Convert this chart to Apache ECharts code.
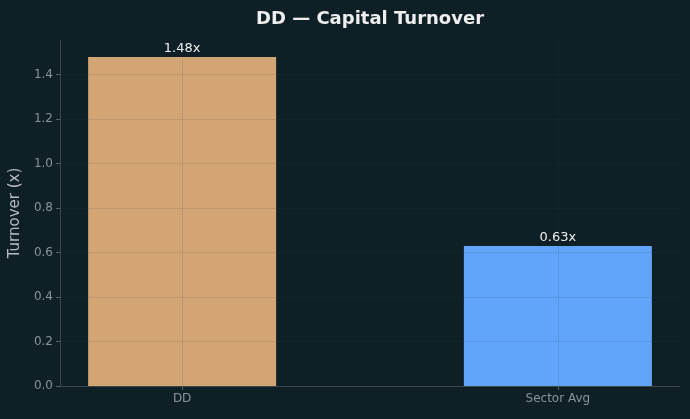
<!DOCTYPE html>
<html>
<head>
    <meta charset="utf-8">
    <title>DD Capital Turnover</title>
    <script src="https://cdn.jsdelivr.net/npm/echarts@6/dist/echarts.min.js"></script>
    <style>
        html, body { margin: 0; padding: 0; background: #0f1f26; }
        #main { width: 690px; height: 419px; }
    </style>
</head>
<body>
    <div id="main"></div>
    <script type="text/javascript">
        // data
        var categories = ['DD', 'Sector Avg'];
        var turnover = [1.48, 0.63];
        var barColors = ['#d4a574', '#60a5fa'];
        var yTicks = [0, 0.2, 0.4, 0.6, 0.8, 1.0, 1.2, 1.4];
        var xTicks = [0, 1];

        var gridColor = 'rgba(45,60,66,0.13)';

        var barData = [];
        for (var i = 0; i < categories.length; i++) {
            barData.push({ value: [i, turnover[i]], itemStyle: { color: barColors[i] } });
        }

        var gridLines = [];
        for (var j = 1; j < yTicks.length; j++) {
            gridLines.push({ yAxis: yTicks[j] });
        }
        for (var k = 0; k < xTicks.length; k++) {
            gridLines.push({ xAxis: xTicks[k] });
        }

        var myChart = echarts.init(document.getElementById('main'));

        var option = {
            backgroundColor: '#0f1f26',
            animation: false,
            title: {
                text: 'DD — Capital Turnover',
                left: 365,
                textAlign: 'center',
                top: 5,
                textStyle: { color: '#eeeeee', fontSize: 18, fontWeight: 'bold', fontFamily: 'DejaVu Sans' }
            },
            grid: { left: 60, right: 10, top: 40, bottom: 33, outerBoundsMode: 'none', containLabel: false },
            xAxis: {
                type: 'value',
                min: -0.325,
                max: 1.325,
                axisLine: { onZero: false, lineStyle: { color: '#3d474c' } },
                axisTick: { show: true, customValues: xTicks, length: 4, lineStyle: { color: '#5a6468' } },
                axisLabel: {
                    customValues: xTicks,
                    color: '#8a9399',
                    fontSize: 12,
                    fontFamily: 'DejaVu Sans',
                    margin: 7,
                    formatter: function (v) { return categories[Math.round(v)]; }
                },
                splitLine: { show: false }
            },
            yAxis: {
                type: 'value',
                min: 0,
                max: 1.556,
                name: 'Turnover (x)',
                nameLocation: 'middle',
                nameGap: 33,
                nameTextStyle: { color: '#b4bcc0', fontSize: 15, fontFamily: 'DejaVu Sans' },
                axisLine: { show: true, onZero: false, lineStyle: { color: '#3d474c' } },
                axisTick: { show: true, customValues: yTicks, length: 4, lineStyle: { color: '#5a6468' } },
                axisLabel: {
                    customValues: yTicks,
                    color: '#8a9399',
                    fontSize: 12,
                    fontFamily: 'DejaVu Sans',
                    margin: 7,
                    formatter: function (v) { return v.toFixed(1); }
                },
                splitLine: { show: false }
            },
            series: [{
                type: 'bar',
                data: barData,
                barWidth: 188,
                label: {
                    show: true,
                    position: 'top',
                    distance: 2,
                    color: '#eeeeee',
                    fontSize: 13,
                    fontFamily: 'DejaVu Sans',
                    formatter: function (p) { return p.value[1].toFixed(2) + 'x'; }
                },
                markLine: {
                    silent: true,
                    symbol: 'none',
                    label: { show: false },
                    lineStyle: { color: gridColor, type: 'solid', width: 1 },
                    data: gridLines
                }
            }]
        };

        myChart.setOption(option);
    </script>
</body>
</html>
